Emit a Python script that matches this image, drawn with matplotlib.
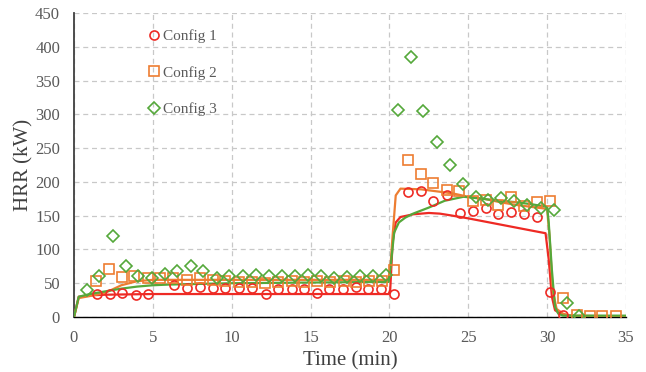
import matplotlib
matplotlib.use("Agg")
import matplotlib.pyplot as plt
from matplotlib.lines import Line2D

plt.rcParams["font.family"] = ["Liberation Serif", "DejaVu Serif"]

# ---- measured heat release rate (markers) ----
t_cfg1 = [1.44, 2.26, 3.05, 3.9, 4.7, 6.36, 7.15, 8.0, 8.8, 9.6, 10.45, 11.3,
          12.15, 12.95, 13.8, 14.6, 15.4, 16.2, 17.05, 17.85, 18.65, 19.45,
          20.29, 21.16, 21.98, 22.78, 23.63, 24.45, 25.28, 26.1, 26.9, 27.72,
          28.53, 29.38, 30.18, 31.0]
hrr_cfg1 = [34, 34, 35, 33, 34, 47, 43, 44, 43, 43, 43, 43,
            34, 42, 42, 42, 35, 41, 42, 44, 42, 42,
            34, 185, 187, 172, 180, 154, 157, 162, 153, 156,
            153, 148, 37, 3]

t_cfg2 = [1.4, 2.24, 3.02, 3.83, 4.67, 5.45, 6.3, 7.15, 8.0, 8.8, 9.6, 10.45,
          11.3, 12.1, 12.95, 13.8, 14.6, 15.4, 16.25, 17.1, 17.9, 18.7, 19.5,
          20.3, 21.16, 21.98, 22.79, 23.63, 24.43, 25.28, 26.1, 26.9, 27.73,
          28.55, 29.38, 30.18, 31.03, 31.87, 32.7, 33.5, 34.35]
hrr_cfg2 = [54, 71, 59, 61, 58, 57, 57, 55, 57, 55, 53, 52,
            52, 51, 52, 53, 52, 53, 52, 53, 52, 53, 54,
            69, 232, 211, 199, 188, 187, 172, 173, 166, 178,
            165, 170, 172, 28, 3, 2, 2, 1]

t_cfg3 = [0.8, 1.6, 2.45, 3.3, 4.08, 4.93, 5.77, 6.55, 7.4, 8.2, 9.05, 9.85,
          10.7, 11.52, 12.37, 13.2, 14.0, 14.86, 15.66, 16.5, 17.33, 18.14,
          18.94, 19.77, 20.57, 21.37, 22.15, 23.04, 23.84, 24.65, 25.5, 26.27,
          27.1, 27.9, 28.7, 29.6, 30.44, 31.24, 32.04]
hrr_cfg3 = [40, 60, 120, 76, 61, 57, 63, 68, 76, 68, 58, 61,
            61, 62, 60, 60, 60, 62, 60, 57, 59, 60,
            60, 62, 306, 385, 305, 259, 225, 197, 178, 173,
            176, 172, 166, 161, 158, 20, 1]

# ---- simulated heat release rate (lines) ----
tm_cfg1 = [0, 0.3, 1, 2, 5, 10, 15, 19.95, 20.05, 20.2, 20.4, 20.7, 21.5,
           22.5, 23.2, 24, 25, 26, 27, 28, 29, 29.9, 30.1, 30.3, 30.5, 31,
           32, 35]
hm_cfg1 = [0, 30, 32, 33, 34, 34, 34, 34, 40, 110, 140, 148, 152,
           154, 153, 150, 146, 141.5, 137, 132.5, 128, 124, 85, 30, 10, 3,
           1, 0]

tm_cfg2 = [0, 0.3, 1, 2, 3, 4, 5, 6, 10, 15, 19.95, 20.05, 20.2, 20.4, 20.7,
           22, 23, 24, 25, 26, 27, 28, 29, 30, 30.15, 30.35, 30.6, 31, 31.5,
           35]
hm_cfg2 = [0, 28, 31, 36, 47, 53, 55, 55, 55, 55, 55, 70, 120, 180, 190,
           189, 186, 183, 178, 175, 170, 166, 163, 160, 120, 40, 12, 5, 2,
           1]

tm_cfg3 = [0, 0.3, 1, 2, 3, 4, 5, 6, 8, 10, 15, 19.95, 20.1, 20.3, 20.6, 21,
           21.5, 22.5, 23.5, 24.7, 25.5, 27, 28, 29, 30, 30.1, 30.3, 30.5,
           30.7, 31, 35]
hm_cfg3 = [0, 30, 34, 38, 42, 45, 47, 48, 49, 50, 51, 52, 80, 125, 140, 147,
           153, 162, 172, 178, 176, 172, 170, 167, 163, 140, 70, 15,
           5, 2, 2]

labels = ["Config 1", "Config 2", "Config 3"]
x_ticks = [0, 5, 10, 15, 20, 25, 30, 35]
y_ticks = [0, 50, 100, 150, 200, 250, 300, 350, 400, 450]

red = "#EE2A24"
orange = "#ED7D31"
green = "#55A83A"
tick_grey = "#595959"

fig = plt.figure(figsize=(6.46, 3.72), dpi=100)
ax = fig.add_axes([74 / 646, 1 - 317 / 372, 552 / 646, 304 / 372])

lw = 1.6
ax.plot(tm_cfg1, hm_cfg1, color=red, lw=lw, zorder=3)
ax.plot(tm_cfg2, hm_cfg2, color=orange, lw=lw, zorder=3)
ax.plot(tm_cfg3, hm_cfg3, color=green, lw=lw, zorder=3)

ms = 6.5
ms_d = 6.3
mew = 1.2
ax.plot(t_cfg1, hrr_cfg1, ls="none", marker="o", ms=ms, mfc="none",
        mec=red, mew=mew, zorder=4)
ax.plot(t_cfg2, hrr_cfg2, ls="none", marker="s", ms=ms, mfc="none",
        mec=orange, mew=mew, zorder=4)
ax.plot(t_cfg3, hrr_cfg3, ls="none", marker="D", ms=ms_d, mfc="none",
        mec=green, mew=mew, zorder=4)

ax.set_xlim(0, 35)
ax.set_ylim(0, 450)
ax.set_xticks(x_ticks)
ax.set_yticks(y_ticks)
ax.tick_params(length=0, labelsize=12, colors=tick_grey)
ax.tick_params(axis="x", pad=9)
ax.tick_params(axis="y", pad=10)

ax.grid(True, color="#C8C8C8", ls=(0, (4, 3)), lw=0.9)
ax.set_axisbelow(True)
for side in ("top", "right"):
    ax.spines[side].set_visible(False)
ax.spines["left"].set_color("#404040")
ax.spines["left"].set_linewidth(1.3)
ax.spines["bottom"].set_color("#000000")
ax.spines["bottom"].set_linewidth(1.0)

ax.set_xlabel("Time (min)", fontsize=15, color="#404040", labelpad=4)
ax.set_ylabel("HRR (kW)", fontsize=15, color="#404040", labelpad=1.5)

handles = [
    Line2D([], [], ls="none", marker="o", ms=ms, mfc="none", mec=red, mew=mew),
    Line2D([], [], ls="none", marker="s", ms=ms, mfc="none", mec=orange, mew=mew),
    Line2D([], [], ls="none", marker="D", ms=ms_d, mfc="none", mec=green, mew=mew),
]
leg = ax.legend(handles, labels, loc="upper left", bbox_to_anchor=(0.1344, 0.947),
                frameon=False, handlelength=0.8, handletextpad=0.15,
                labelspacing=1.5, borderpad=0, borderaxespad=0,
                prop={"family": "Liberation Serif", "size": 11})
for txt in leg.get_texts():
    txt.set_color(tick_grey)

fig.savefig("out.png", dpi=100)
